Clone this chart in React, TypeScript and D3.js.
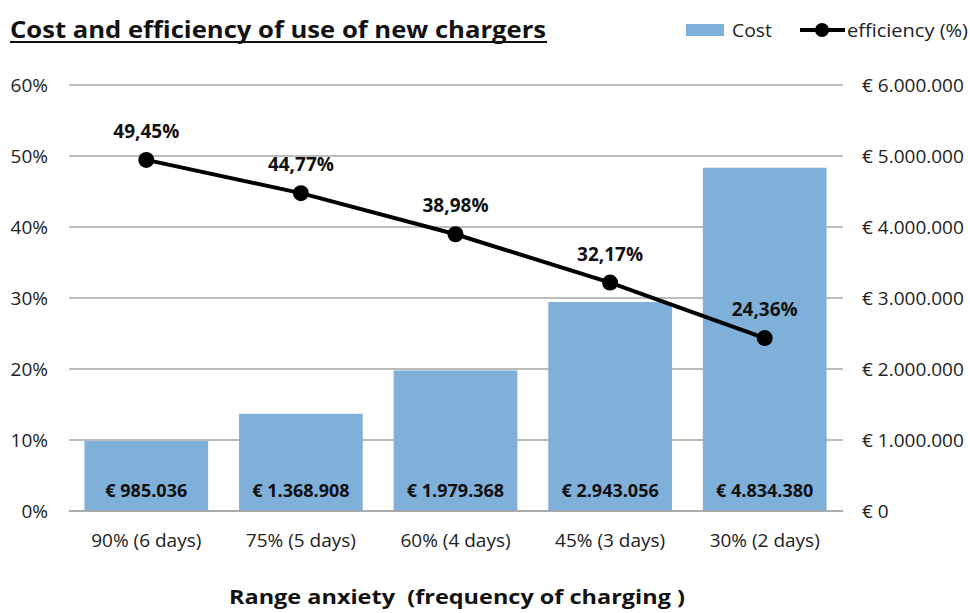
import React from "react";
import * as d3 from "d3";

const categories = ["90% (6 days)", "75% (5 days)", "60% (4 days)", "45% (3 days)", "30% (2 days)"];
const costs = [985036, 1368908, 1979368, 2943056, 4834380];
const efficiency = [49.45, 44.77, 38.98, 32.17, 24.36];
const pctTicks = [0, 10, 20, 30, 40, 50, 60];
const costTicks = [0, 1000000, 2000000, 3000000, 4000000, 5000000, 6000000];

const W = 970;
const H = 613;
const margin = { top: 85, right: 128, bottom: 102, left: 69 };
const font = "'Open Sans', 'Liberation Sans', sans-serif";
const barColor = "#7eb0d9";

const euro = (v: number) =>
  "€ " + (v === 0 ? "0" : d3.format(",")(v).replace(/,/g, "."));

export default function App() {
  const x = d3
    .scaleBand()
    .domain(categories)
    .range([margin.left, W - margin.right])
    .paddingInner(0.2)
    .paddingOuter(0.1);
  const yPct = d3.scaleLinear().domain([0, 60]).range([H - margin.bottom, margin.top]);
  const yCost = d3.scaleLinear().domain([0, 6000000]).range([H - margin.bottom, margin.top]);

  const pts = categories.map((c, i) => [x(c)! + x.bandwidth() / 2, yPct(efficiency[i])] as [number, number]);
  const line = d3.line()(pts);

  return (
    <svg width={W} height={H} style={{ position: "absolute", left: 0, top: 0 }} fontFamily={font}>
      <rect width={W} height={H} fill="#fff" />
      {/* title */}
      <text x={10} y={38} fontSize={23} fontWeight="bold" fill="#111" textLength={536} lengthAdjust="spacingAndGlyphs">
        Cost and efficiency of use of new chargers
      </text>
      <line x1={10} x2={547} y1={42} y2={42} stroke="#111" strokeWidth={2} />

      {/* legend */}
      <rect x={686} y={24} width={38} height={12} fill={barColor} />
      <text x={732} y={37} fontSize={18} fill="#222" textLength={40} lengthAdjust="spacingAndGlyphs">Cost</text>
      <line x1={800} x2={845} y1={30} y2={30} stroke="#000" strokeWidth={4} />
      <circle cx={822} cy={30} r={7} fill="#000" />
      <text x={847} y={37} fontSize={18} fill="#222" textLength={121} lengthAdjust="spacingAndGlyphs">efficiency (%)</text>

      {/* gridlines + left ticks */}
      {pctTicks.map((t) => (
        <g key={t}>
          <line x1={margin.left} x2={W - margin.right + 1} y1={yPct(t)} y2={yPct(t)} stroke="#a6a6a6" strokeWidth={1.3} />
          <text x={48} y={yPct(t) + 7} textAnchor="end" fontSize={19} fill="#222">{t}%</text>
        </g>
      ))}
      {/* right axis */}
      {costTicks.map((t) => (
        <text key={t} x={862} y={yCost(t) + 7} fontSize={19} fill="#222">{euro(t)}</text>
      ))}

      {/* bars */}
      {categories.map((c, i) => (
        <g key={c}>
          <rect x={x(c)!} y={yCost(costs[i])} width={x.bandwidth()} height={yCost(0) - yCost(costs[i])} fill={barColor} />
          <text x={x(c)! + x.bandwidth() / 2} y={497} textAnchor="middle" fontSize={18} fontWeight="bold" fill="#111">
            {euro(costs[i])}
          </text>
          <text x={x(c)! + x.bandwidth() / 2} y={547} textAnchor="middle" fontSize={19} fill="#222">{c}</text>
        </g>
      ))}
      <line x1={margin.left} x2={W - margin.right + 1} y1={yPct(0)} y2={yPct(0)} stroke="#a6a6a6" strokeWidth={1.3} />

      {/* efficiency line */}
      <path d={line!} fill="none" stroke="#000" strokeWidth={4} />
      {pts.map((p, i) => (
        <g key={i}>
          <circle cx={p[0]} cy={p[1]} r={8} fill="#000" />
          <text x={p[0]} y={p[1] - 22} textAnchor="middle" fontSize={19} fontWeight="bold" fill="#111">
            {efficiency[i].toFixed(2).replace(".", ",")}%
          </text>
        </g>
      ))}

      {/* x axis title */}
      <text x={457} y={604} textAnchor="middle" fontSize={20} fontWeight="bold" fill="#111" textLength={456} lengthAdjust="spacingAndGlyphs">
        {"Range anxiety \u00a0(frequency of charging )"}
      </text>
    </svg>
  );
}
